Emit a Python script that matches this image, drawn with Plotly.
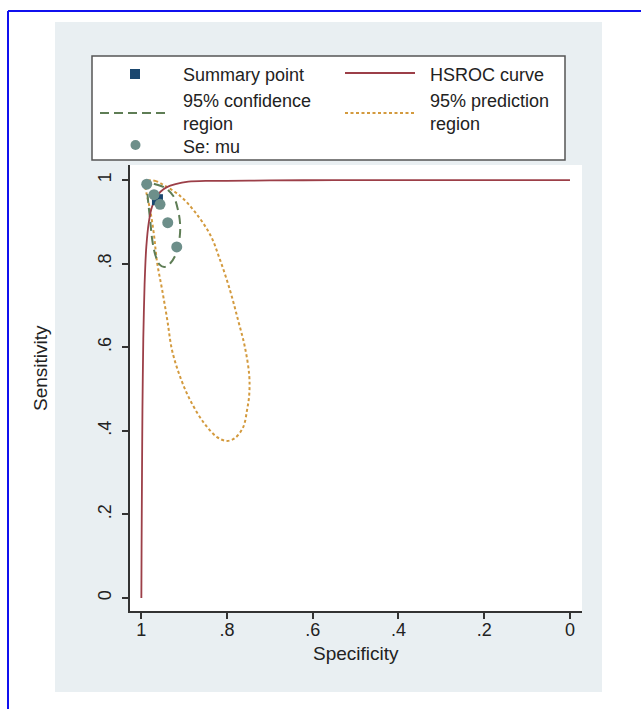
import plotly.graph_objects as go

# ---- data ----
study_spec = [0.987, 0.970, 0.956, 0.938, 0.917]
study_sens = [0.990, 0.965, 0.942, 0.898, 0.840]

summary_spec = [0.962]
summary_sens = [0.953]

hsroc_spec = [0.9995, 0.999, 0.998, 0.997, 0.995, 0.992, 0.988, 0.982, 0.975, 0.965,
              0.955, 0.94, 0.92, 0.89, 0.85, 0.80, 0.70, 0.55, 0.30, 0.0]
hsroc_sens = [0.0, 0.12, 0.30, 0.45, 0.62, 0.75, 0.84, 0.90, 0.935, 0.958,
              0.972, 0.983, 0.990, 0.996, 0.998, 0.998, 0.999, 1.0, 1.0, 1.0]

conf_spec = [0.986, 0.967, 0.944, 0.925, 0.914, 0.909, 0.911, 0.918, 0.932, 0.946,
             0.958, 0.967, 0.974, 0.979, 0.984, 0.986, 0.986]
conf_sens = [0.995, 0.990, 0.981, 0.962, 0.928, 0.892, 0.856, 0.825, 0.801, 0.792,
             0.799, 0.821, 0.856, 0.904, 0.952, 0.981, 0.995]

pred_spec = [0.988, 0.967, 0.944, 0.909, 0.874, 0.839, 0.816, 0.793, 0.774, 0.758,
             0.748, 0.748, 0.753, 0.762, 0.781, 0.800, 0.823, 0.855, 0.886, 0.909,
             0.928, 0.939, 0.951, 0.963, 0.970, 0.979, 0.988, 0.991, 0.988]
pred_sens = [0.998, 0.998, 0.986, 0.962, 0.923, 0.869, 0.809, 0.737, 0.665, 0.600,
             0.533, 0.486, 0.450, 0.409, 0.383, 0.376, 0.385, 0.421, 0.474, 0.529,
             0.593, 0.665, 0.737, 0.804, 0.868, 0.928, 0.971, 0.993, 0.998]

tick_vals = [1, 0.8, 0.6, 0.4, 0.2, 0]
tick_text = ["1", ".8", ".6", ".4", ".2", "0"]

legend_labels = ["Summary point", "HSROC curve", "95% confidence<br>region",
                 "95% prediction<br>region", "Se: mu"]

# ---- styles ----
C_SUM = "#1a476f"
C_HSROC = "#9c3f48"
C_CONF = "#5e7d55"
C_PRED = "#d39a3e"
C_PTS = "#6d8f8a"
FONT = "Liberation Sans, Arial, sans-serif"
TXT = "#222222"

W, H = 641, 709
L, R, T, B = 130, 582, 165, 611  # plot area pixel box


def px(x):
    return (x - L) / (R - L)


def py(y):
    return (B - y) / (B - T)


fig = go.Figure()

fig.add_trace(go.Scatter(x=pred_spec, y=pred_sens, mode="lines",
                         line=dict(color=C_PRED, width=2, dash="3px,2.5px", shape="spline", smoothing=1.0),
                         showlegend=False, hoverinfo="skip"))
fig.add_trace(go.Scatter(x=conf_spec, y=conf_sens, mode="lines",
                         line=dict(color=C_CONF, width=2, dash="9px,5px", shape="spline", smoothing=1.0),
                         showlegend=False, hoverinfo="skip"))
fig.add_trace(go.Scatter(x=hsroc_spec, y=hsroc_sens, mode="lines",
                         line=dict(color=C_HSROC, width=1.8, shape="spline", smoothing=0.6),
                         showlegend=False, hoverinfo="skip"))
fig.add_trace(go.Scatter(x=summary_spec, y=summary_sens, mode="markers",
                         marker=dict(symbol="square", size=11, color=C_SUM),
                         showlegend=False))
fig.add_trace(go.Scatter(x=study_spec, y=study_sens, mode="markers",
                         marker=dict(symbol="circle", size=11, color=C_PTS),
                         showlegend=False))

shapes = []
# graph region panel
shapes.append(dict(type="rect", xref="paper", yref="paper", x0=px(55), x1=px(602), y0=py(692), y1=py(22),
                   fillcolor="#e9eff2", line=dict(width=0), layer="below"))
# plot region white
shapes.append(dict(type="rect", xref="paper", yref="paper", x0=0, x1=1, y0=0, y1=1,
                   fillcolor="white", line=dict(width=0), layer="below"))
# blue frame
shapes.append(dict(type="line", xref="paper", yref="paper", x0=px(8), x1=px(645), y0=py(11), y1=py(11),
                   line=dict(color="#1010ee", width=2)))
shapes.append(dict(type="line", xref="paper", yref="paper", x0=px(8), x1=px(8), y0=py(11), y1=py(715),
                   line=dict(color="#1010ee", width=2)))
# legend box
shapes.append(dict(type="rect", xref="paper", yref="paper", x0=px(92), x1=px(565), y0=py(160), y1=py(56),
                   fillcolor="white", line=dict(color="#555555", width=1.5)))
# legend keys
shapes.append(dict(type="rect", xref="paper", yref="paper", x0=px(130), x1=px(140), y0=py(79), y1=py(69),
                   fillcolor=C_SUM, line=dict(width=0)))
shapes.append(dict(type="line", xref="paper", yref="paper", x0=px(345), x1=px(415), y0=py(73), y1=py(73),
                   line=dict(color=C_HSROC, width=1.8)))
shapes.append(dict(type="line", xref="paper", yref="paper", x0=px(100), x1=px(170), y0=py(113), y1=py(113),
                   line=dict(color=C_CONF, width=2, dash="9px,5px")))
shapes.append(dict(type="line", xref="paper", yref="paper", x0=px(345), x1=px(415), y0=py(113), y1=py(113),
                   line=dict(color=C_PRED, width=2, dash="3px,2.5px")))
shapes.append(dict(type="circle", xref="paper", yref="paper", x0=px(130.5), x1=px(140.5), y0=py(150), y1=py(140),
                   fillcolor=C_PTS, line=dict(width=0)))

annots = []
leg_pos = [(181, 75), (428, 75), (181, 112), (428, 112), (181, 147)]
for (lx, ly), lab in zip(leg_pos, legend_labels):
    annots.append(dict(text=lab, xref="paper", yref="paper", x=px(lx), y=py(ly), xanchor="left",
                       yanchor="middle", align="left", showarrow=False,
                       font=dict(size=18, color=TXT, family=FONT)))
annots.append(dict(text="Specificity", xref="paper", yref="paper", x=px(356), y=py(653), xanchor="center",
                   yanchor="middle", showarrow=False, font=dict(size=19, color=TXT, family=FONT)))
annots.append(dict(text="Sensitivity", xref="paper", yref="paper", x=px(40), y=py(368), xanchor="center",
                   yanchor="middle", textangle=-90, showarrow=False, font=dict(size=19, color=TXT, family=FONT)))

fig.update_layout(
    width=W, height=H,
    margin=dict(l=L, r=W - R, t=T, b=H - B, autoexpand=False),
    paper_bgcolor="white", plot_bgcolor="white",
    showlegend=False,
    shapes=shapes, annotations=annots,
    font=dict(family=FONT, size=19, color=TXT),
)
fig.update_xaxes(range=[1.026, -0.028], tickvals=tick_vals, ticktext=tick_text,
                 showgrid=False, zeroline=False, showline=True, linecolor="#333333", linewidth=1.5,
                 ticks="outside", ticklen=6, tickwidth=1.5, tickcolor="#333333", ticklabelstandoff=-4,
                 tickfont=dict(size=18, color=TXT, family=FONT))
fig.update_yaxes(range=[-0.031, 1.036], tickvals=tick_vals, ticktext=tick_text, tickangle=-90,
                 showgrid=False, zeroline=False, showline=True, linecolor="#333333", linewidth=1.5,
                 ticks="outside", ticklen=6, tickwidth=1.5, tickcolor="#333333", ticklabelstandoff=4,
                 tickfont=dict(size=18, color=TXT, family=FONT))

fig.write_html("out.html")
